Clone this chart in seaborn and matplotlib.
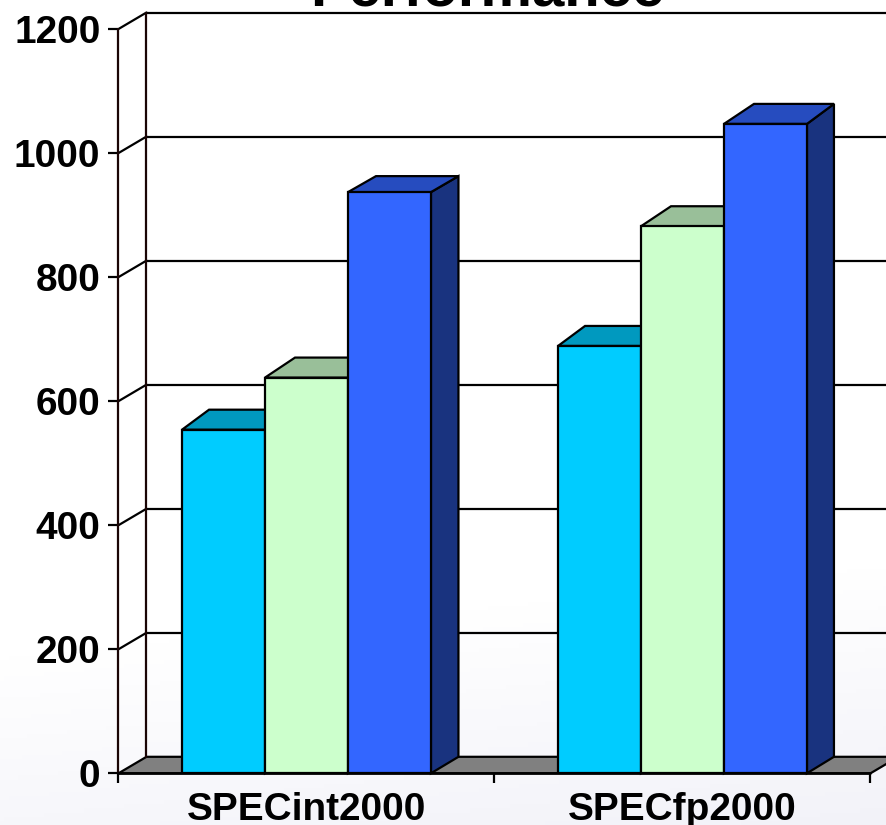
import numpy as np
import pandas as pd
import matplotlib
matplotlib.use('Agg')
import matplotlib.pyplot as plt
from matplotlib.patches import Polygon
import seaborn as sns

# values
benchmarks = ['SPECint2000', 'SPECfp2000']
series_names = ['Series 1', 'Series 2', 'Series 3']
series_1 = [554, 689]
series_2 = [638, 882]
series_3 = [937, 1047]
y_ticks = [0, 200, 400, 600, 800, 1000, 1200]
title_text = 'Performance'

# face colours for each series, then the shaded top and side
front_colors = ['#00CCFF', '#CCFFCC', '#3366FF']
top_colors = ['#0099BF', '#99BF99', '#264CBF']
side_colors = ['#00667F', '#667F66', '#19337F']

df = pd.DataFrame({
    'benchmark': benchmarks * 3,
    'series': np.repeat(series_names, 2),
    'score': series_1 + series_2 + series_3,
})

sns.set_style('white')
plt.rcParams['font.family'] = ['Liberation Sans', 'DejaVu Sans']
plt.rcParams['font.weight'] = 'bold'

W, H = 887, 825
fig = plt.figure(figsize=(W / 100, H / 100), dpi=100)

# faint lavender wash along the bottom
bg = fig.add_axes([0, 0, 1, 1], zorder=0)
xx, yy = np.meshgrid(np.linspace(0, 1, 200), np.linspace(0, 1, 200))
wash = np.clip((yy * 0.9 + xx * 0.1 - 0.72) / 0.28, 0, 1)
rgb = np.dstack([1 - wash * 0.05, 1 - wash * 0.05, 1 - wash * 0.025])
bg.imshow(rgb, aspect='auto', extent=(0, 1, 0, 1), origin='upper')
bg.axis('off')

# main axes sits on the front plane of the 3D box
x0, x1, y0, y1 = 118.5, 870.5, 773.3, 29
ax = fig.add_axes([x0 / W, 1 - y0 / H, (x1 - x0) / W, (y0 - y1) / H], zorder=1)
ax.patch.set_alpha(0)

sns.barplot(data=df, x='benchmark', y='score', hue='series', palette=front_colors,
            width=0.662, saturation=1, edgecolor='black', linewidth=1.6,
            legend=False, ax=ax)
bars = sorted([p for p in ax.patches if p.get_height() > 0], key=lambda p: p.get_x())
ax.set_xlim(-0.5, 1.5)
ax.set_ylim(0, 1200)
sns.despine(ax=ax, left=True, bottom=True)

# pixel to data factors
sx = 2 / (x1 - x0)
sy = 1200 / (y0 - y1)
wall_dx = 28 * sx
wall_dy = 16.5 * sy
lw = 1.6

# floor
ax.add_patch(Polygon([(-0.5, 0), (-0.5 + wall_dx, wall_dy), (1.5 + wall_dx, wall_dy), (1.5, 0)],
                     closed=True, fc='#808080', ec='black', lw=lw, clip_on=False, zorder=1))

# walls and gridlines
for t in y_ticks:
    if t > 0:
        ax.plot([-0.5 + wall_dx, 1.5 + wall_dx], [t + wall_dy, t + wall_dy],
                color='black', lw=lw, clip_on=False, zorder=1.5)
        ax.plot([-0.5, -0.5 + wall_dx], [t, t + wall_dy], color='black', lw=lw,
                clip_on=False, zorder=1.5)
ax.plot([-0.5 + wall_dx] * 2, [wall_dy, 1200 + wall_dy], color='#1a0505', lw=lw,
        clip_on=False, zorder=1.5)
ax.plot([-0.5, -0.5], [0, 1200], color='#1a0505', lw=lw, clip_on=False, zorder=1.5)
ax.plot([-0.5, 1.5], [0, 0], color='black', lw=lw * 1.2, clip_on=False, zorder=20)

# tops and sides, extruded from the bars seaborn drew
# how far each bar's depth runs in pixels: left dx, right dx, top dy
depths = [(27, 27, 20), (30, 27, 20), (28, 27.5, 16), (27, 27, 20), (30, 27, 20), (30, 27, 20)]
for i, bar in enumerate(bars):
    left, right = bar.get_x(), bar.get_x() + bar.get_width()
    top = bar.get_height()
    dxl, dxr, dyt = depths[i]
    dxl, dxr, dyt = dxl * sx, dxr * sx, dyt * sy
    z = 3 + i
    c = i % 3
    ax.add_patch(Polygon([(right, 0), (right + dxr, wall_dy), (right + dxr, top + dyt), (right, top)],
                         closed=True, fc=side_colors[c], ec='black', lw=lw, clip_on=False, zorder=z))
    ax.add_patch(Polygon([(left, top), (left + dxl, top + dyt), (right + dxr, top + dyt), (right, top)],
                         closed=True, fc=top_colors[c], ec='black', lw=lw, clip_on=False, zorder=z))
    bar.set_zorder(z + 0.5)

# axis ticks
ax.set_yticks(y_ticks)
ax.set_xticks([0, 1])
ax.set_xticks([-0.5, 0.5, 1.5], minor=True)
ax.set_xticklabels(benchmarks, fontsize=27.9, fontweight='bold', color='black')
ax.set_yticklabels([str(t) for t in y_ticks], fontsize=27.9, fontweight='bold', color='black')
ax.tick_params(axis='y', left=True, length=7.5, width=lw, pad=5.5, color='black')
ax.tick_params(axis='x', which='major', bottom=False, pad=10)
ax.tick_params(axis='x', which='minor', bottom=True, length=7.5, width=lw, color='black')
ax.set_xlabel('')
ax.set_ylabel('')

# title runs off the top edge of the picture
fig.text(487.5 / W, 1 - 5 / H, title_text, ha='center', va='baseline',
         fontsize=41.8, fontweight='bold', color='black')

fig.savefig('out.png', dpi=100)
